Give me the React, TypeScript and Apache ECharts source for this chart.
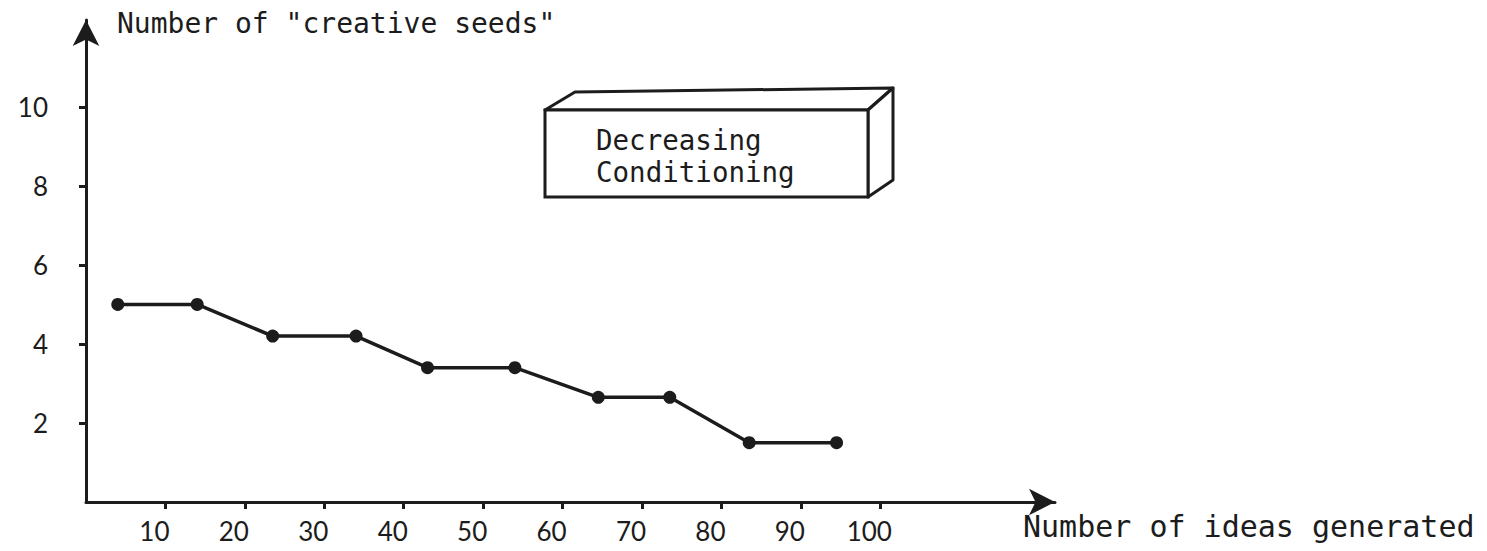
import React, { useEffect, useRef } from "react";
import * as echarts from "echarts";

const ideas = [4, 14, 23.5, 34, 43, 54, 64.5, 73.5, 83.5, 94.5];
const seeds = [5, 5, 4.2, 4.2, 3.4, 3.4, 2.65, 2.65, 1.5, 1.5];
const xTicks = [10, 20, 30, 40, 50, 60, 70, 80, 90, 100];
const yTicks = [2, 4, 6, 8, 10];
const yTitle = 'Number of "creative seeds"';
const xTitle = "Number of ideas generated";
const boxLines = ["Decreasing", "Conditioning"];

const INK = "#1c1c1c";
const MONO = "'DejaVu Sans Mono', monospace";
const NUM = "Lato, 'Open Sans', sans-serif";

export default function App() {
  const ref = useRef<HTMLDivElement>(null);
  useEffect(() => {
    if (!ref.current) return;
    const chart = echarts.init(ref.current, null, { renderer: "svg" });
    chart.setOption({
      animation: false,
      backgroundColor: "#ffffff",
      grid: { left: 86, right: 432, top: 20, bottom: 49, containLabel: false },
      title: [
        { text: yTitle, left: 112, top: 4, textStyle: { fontFamily: MONO, fontSize: 28, fontWeight: "normal", color: INK } },
        { text: xTitle, left: 1018, top: 506, textStyle: { fontFamily: MONO, fontSize: 30, fontWeight: "normal", color: INK } },
      ],
      xAxis: {
        type: "value",
        min: 0,
        max: 122,
        interval: 10,
        splitLine: { show: false },
        axisLine: { show: true, symbol: ["none", "arrow"], symbolSize: [20, 26], lineStyle: { color: INK, width: 3 } },
        axisTick: { show: true, customValues: xTicks, length: 7, lineStyle: { color: INK, width: 3 } },
        axisLabel: { customValues: xTicks, margin: 16, padding: [0, 22, 0, 0], fontFamily: NUM, fontSize: 26, color: INK },
      },
      yAxis: {
        type: "value",
        min: 0,
        max: 12.2,
        interval: 2,
        splitLine: { show: false },
        axisLine: { show: true, symbol: ["none", "arrow"], symbolSize: [20, 26], lineStyle: { color: INK, width: 3 } },
        axisTick: { show: true, customValues: yTicks, length: 7, lineStyle: { color: INK, width: 3 } },
        axisLabel: { customValues: yTicks, margin: 38, fontFamily: NUM, fontSize: 26, color: INK },
      },
      series: [
        {
          type: "line",
          data: ideas.map((x, i) => [x, seeds[i]]),
          symbol: "circle",
          symbolSize: 13,
          lineStyle: { color: INK, width: 3.5 },
          itemStyle: { color: INK },
        },
      ],
      graphic: [
        {
          type: "polygon",
          shape: { points: [[545, 110], [575, 92], [893, 88], [868, 110]] },
          style: { fill: "#fff", stroke: INK, lineWidth: 3, lineJoin: "round" },
        },
        {
          type: "polygon",
          shape: { points: [[868, 110], [893, 88], [893, 180], [868, 197]] },
          style: { fill: "#fff", stroke: INK, lineWidth: 3, lineJoin: "round" },
        },
        {
          type: "rect",
          shape: { x: 545, y: 110, width: 323, height: 87 },
          style: { fill: "#fff", stroke: INK, lineWidth: 3 },
        },
        {
          type: "text",
          x: 596,
          y: 124,
          style: { text: boxLines.join("\n"), fontFamily: MONO, fontSize: 27.5, lineHeight: 32, fill: INK, align: "left" },
        },
      ],
    });
    return () => chart.dispose();
  }, []);
  return <div ref={ref} style={{ position: "absolute", left: 0, top: 0, width: 1487, height: 551 }} />;
}
